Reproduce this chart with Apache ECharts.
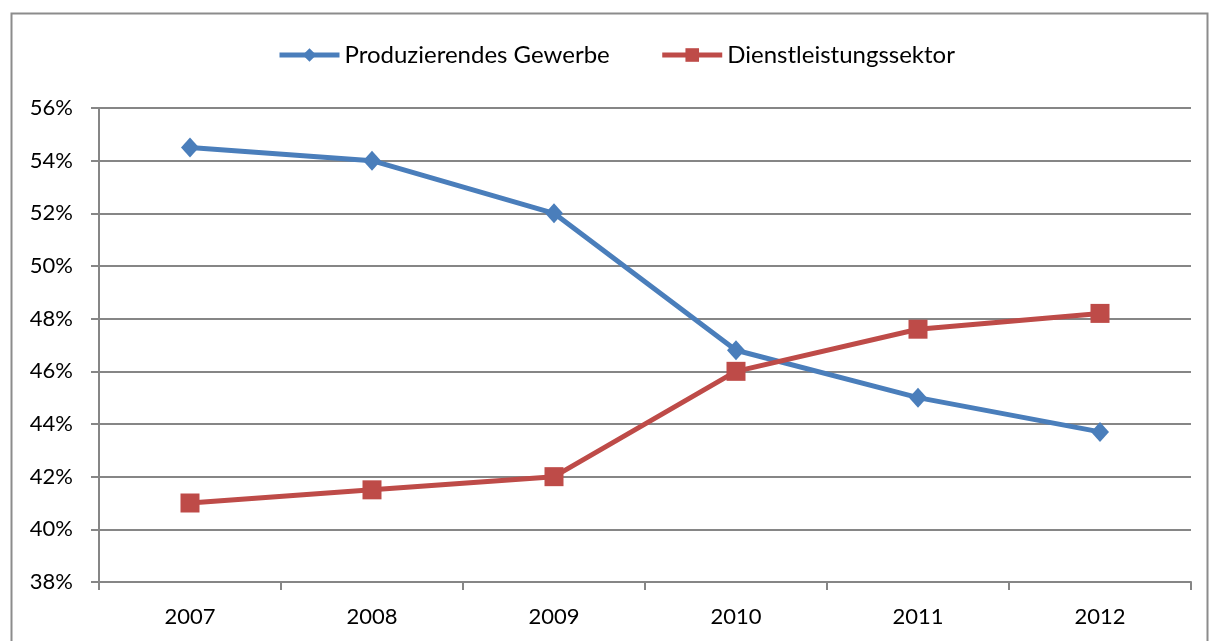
<!DOCTYPE html>
<html>
<head>
<meta charset="utf-8">
<script src="https://cdn.jsdelivr.net/npm/echarts@6/dist/echarts.min.js"></script>
<style>
  html, body { margin: 0; padding: 0; background: #fff; }
  #chart { width: 1209px; height: 641px; }
</style>
</head>
<body>
<div id="chart"></div>
<script>
const years = ["2007", "2008", "2009", "2010", "2011", "2012"];
const produzierend = [54.5, 54.0, 52.0, 46.8, 45.0, 43.7];
const dienstleistung = [41.0, 41.5, 42.0, 46.0, 47.6, 48.2];

const chart = echarts.init(document.getElementById("chart"), null, { renderer: "canvas" });
const font = "Lato, 'Open Sans', sans-serif";

chart.setOption({
  animation: false,
  graphic: [
    {
      type: "rect",
      shape: { x: 11.5, y: 13.5, width: 1196, height: 640 },
      style: { fill: "none", stroke: "#8c8c8c", lineWidth: 2 },
      silent: true,
    },
  ],
  legend: {
    top: 38,
    left: 272,
    itemWidth: 60,
    itemHeight: 17,
    itemGap: 50,
    lineStyle: { width: 5 },
    textStyle: { fontFamily: font, fontSize: 24, color: "#000" },
    data: ["Produzierendes Gewerbe", "Dienstleistungssektor"],
  },
  grid: { left: 99, right: 18, top: 108, bottom: 59 },
  xAxis: {
    type: "category",
    data: years,
    boundaryGap: true,
    axisLine: { lineStyle: { color: "#868686", width: 2 } },
    axisTick: { show: true, length: 8, lineStyle: { color: "#868686", width: 2 } },
    axisLabel: { fontFamily: font, fontSize: 22, color: "#000", margin: 24 },
  },
  yAxis: {
    type: "value",
    min: 38,
    max: 56,
    interval: 2,
    axisLine: { show: true, lineStyle: { color: "#868686", width: 2 } },
    axisTick: { show: true, length: 8, lineStyle: { color: "#868686", width: 2 } },
    axisLabel: {
      fontFamily: font,
      fontSize: 22,
      color: "#000",
      margin: 26,
      formatter: (v) => v + "%",
    },
    splitLine: { lineStyle: { color: "#868686", width: 2 } },
  },
  series: [
    {
      name: "Produzierendes Gewerbe",
      type: "line",
      data: produzierend,
      symbol: "diamond",
      symbolSize: [18, 20],
      lineStyle: { color: "#4a7ebb", width: 5 },
      itemStyle: { color: "#4a7ebb" },
    },
    {
      name: "Dienstleistungssektor",
      type: "line",
      data: dienstleistung,
      symbol: "rect",
      symbolSize: 19,
      lineStyle: { color: "#be4b48", width: 5 },
      itemStyle: { color: "#be4b48" },
    },
  ],
});
</script>
</body>
</html>
